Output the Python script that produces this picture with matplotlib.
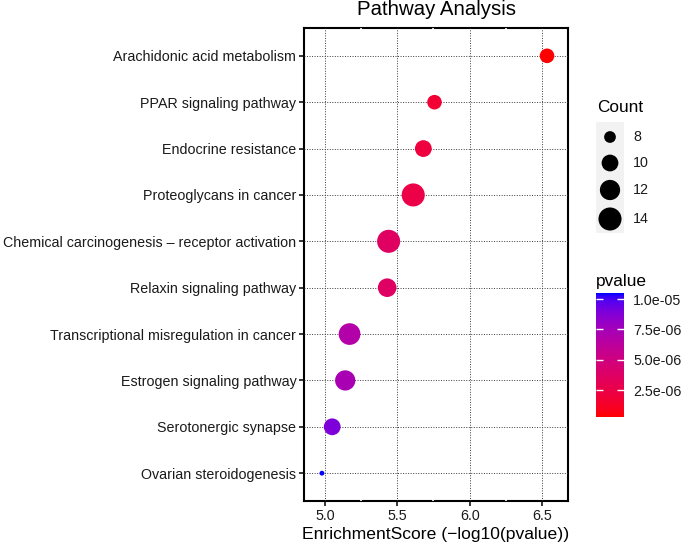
import numpy as np
import matplotlib
matplotlib.use('agg')
import matplotlib.pyplot as plt
from matplotlib.colors import LinearSegmentedColormap, Normalize

plt.rcParams['font.family'] = ['Liberation Sans', 'DejaVu Sans']

# data, top row first
pathways = ['Arachidonic acid metabolism', 'PPAR signaling pathway', 'Endocrine resistance',
            'Proteoglycans in cancer', 'Chemical carcinogenesis \u2013 receptor activation',
            'Relaxin signaling pathway', 'Transcriptional misregulation in cancer',
            'Estrogen signaling pathway', 'Serotonergic synapse', 'Ovarian steroidogenesis']
enrich = [6.535, 5.757, 5.68, 5.61, 5.44, 5.43, 5.17, 5.14, 5.05, 4.979]
pvalue = [2.92e-07, 1.75e-06, 2.09e-06, 2.45e-06, 3.63e-06, 3.72e-06, 6.76e-06, 7.24e-06, 8.91e-06, 1.05e-05]
count = [9, 9, 10, 14, 14, 11, 13, 12, 10, 7]
count_breaks = [8, 10, 12, 14]
p_breaks = [2.5e-06, 5.0e-06, 7.5e-06, 1.0e-05]
p_labels = ['2.5e-06', '5.0e-06', '7.5e-06', '1.0e-05']

# red -> blue gradient interpolated in Lab (like ggplot)
M = np.array([[0.4124, 0.3576, 0.1805], [0.2126, 0.7152, 0.0722], [0.0193, 0.1192, 0.9505]])
WP = np.array([0.95047, 1.0, 1.08883])

def to_lab(rgb):
    c = np.asarray(rgb, float)
    lin = np.where(c <= 0.04045, c / 12.92, ((c + 0.055) / 1.055) ** 2.4)
    xyz = M @ lin / WP
    f = np.where(xyz > 0.008856, np.cbrt(xyz), 7.787 * xyz + 16 / 116)
    return np.array([116 * f[1] - 16, 500 * (f[0] - f[1]), 200 * (f[1] - f[2])])

def to_rgb(lab):
    L, a, b = lab
    fy = (L + 16) / 116
    f = np.array([fy + a / 500, fy, fy - b / 200])
    xyz = np.where(f ** 3 > 0.008856, f ** 3, (f - 16 / 116) / 7.787) * WP
    lin = np.clip(np.linalg.solve(M, xyz), 0, 1)
    c = np.where(lin <= 0.0031308, 12.92 * lin, 1.055 * lin ** (1 / 2.4) - 0.055)
    return np.clip(c, 0, 1)

lo, hi = to_lab([1, 0, 0]), to_lab([0, 0, 1])
cmap = LinearSegmentedColormap.from_list('rb', [to_rgb(lo + t * (hi - lo)) for t in np.linspace(0, 1, 64)])
norm = Normalize(min(pvalue), max(pvalue))

# point sizes, area scaled like scale_size(range=c(1,6)) plus stroke
cmin, cmax = min(count), max(count)
k = 16.6 / (2.845 * 6 + 0.945)

def size_of(c):
    s = 1 + 5 * np.sqrt((np.asarray(c, float) - cmin) / (cmax - cmin))
    d = k * (2.845 * s + 0.945)
    return d ** 2

W, H = 685, 546
fig = plt.figure(figsize=(W / 100, H / 100), dpi=100)
ax = fig.add_axes([304 / W, 1 - 501 / H, 264 / W, 473 / H])

ypos = np.arange(len(pathways))
ax.scatter(enrich, ypos, s=size_of(count), c=pvalue, cmap=cmap, norm=norm, linewidths=0, zorder=3)

ax.set_ylim(len(pathways) - 0.4, -0.6)
ax.set_xlim(4.855, 6.68)
ax.set_yticks(ypos)
ax.set_yticklabels(pathways)
ax.set_xticks([5.0, 5.5, 6.0, 6.5])
ax.set_xticklabels(['5.0', '5.5', '6.0', '6.5'])
ax.set_xticks([5.25, 5.75, 6.25], minor=True)
ax.tick_params(axis='both', which='major', labelsize=10.3, labelcolor='#1a1a1a', length=3.5, width=1.1, pad=2)
ax.tick_params(axis='x', which='minor', length=0)
ax.grid(True, which='major', color='#3a3a3a', linestyle=(0, (1, 1.6)), linewidth=0.7)
ax.grid(True, which='minor', axis='x', color='white', linewidth=1.2)
ax.set_axisbelow(True)
for sp in ax.spines.values():
    sp.set_linewidth(1.5)
    sp.set_zorder(0.4)

fig.text(436 / W, 1 - 15 / H, 'Pathway Analysis', ha='center', va='baseline', fontsize=14.7)
fig.text(436 / W, 1 - 539 / H, 'EnrichmentScore (\u2212log10(pvalue))', ha='center', va='baseline', fontsize=12.6)

# size legend
fig.text(597 / W, 1 - 112 / H, 'Count', ha='left', va='baseline', fontsize=12.4)
lax = fig.add_axes([596 / W, 1 - 233 / H, 28 / W, 111 / H])
lax.set_facecolor('#f2f2f2')
key_y = [137, 163, 190, 219]
lax.set_xlim(0, 1)
lax.set_ylim(233, 122)
lax.scatter([0.5] * 4, key_y, s=size_of(count_breaks), color='black', linewidths=0)
for yy, lab in zip(key_y, count_breaks):
    lax.text(1.32, yy, str(lab), ha='left', va='center', fontsize=10.3, color='#1a1a1a')
lax.set_xticks([])
lax.set_yticks([])
for sp in lax.spines.values():
    sp.set_visible(False)

# colour bar
fig.text(596 / W, 1 - 286 / H, 'pvalue', ha='left', va='baseline', fontsize=12.4)
cax = fig.add_axes([596 / W, 1 - 417 / H, 28 / W, 124 / H])
grad = np.linspace(min(pvalue), max(pvalue), 200).reshape(-1, 1)
cax.imshow(grad, aspect='auto', cmap=cmap, norm=norm, origin='lower',
           extent=[0, 1, min(pvalue), max(pvalue)])
cax.set_xticks([])
cax.set_yticks(p_breaks)
cax.set_yticklabels(p_labels)
cax.tick_params(axis='y', left=True, right=True, labelleft=False, labelright=True,
                direction='in', color='white', length=5, width=1, pad=6.5,
                labelsize=10.3, labelcolor='#1a1a1a')
for sp in cax.spines.values():
    sp.set_visible(False)

fig.savefig('out.png', dpi=100)
